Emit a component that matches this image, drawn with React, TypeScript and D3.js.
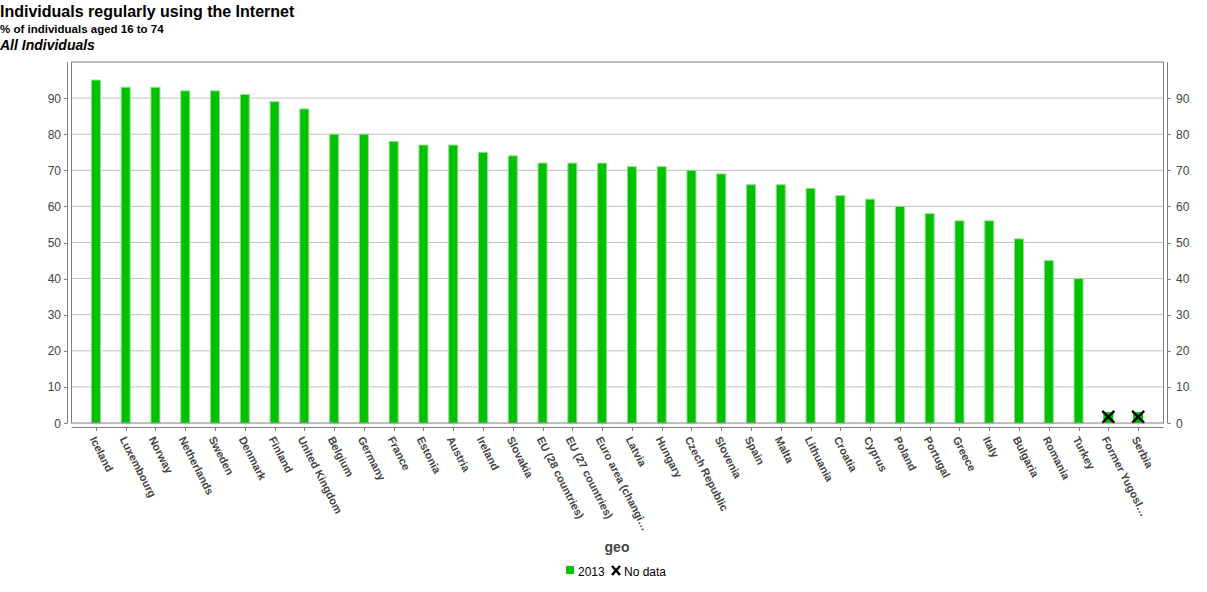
import React from "react";
import * as d3 from "d3";

const categories: string[] = [
  "Iceland", "Luxembourg", "Norway", "Netherlands", "Sweden", "Denmark", "Finland",
  "United Kingdom", "Belgium", "Germany", "France", "Estonia", "Austria", "Ireland",
  "Slovakia", "EU (28 countries)", "EU (27 countries)", "Euro area (changi…", "Latvia",
  "Hungary", "Czech Republic", "Slovenia", "Spain", "Malta", "Lithuania", "Croatia",
  "Cyprus", "Poland", "Portugal", "Greece", "Italy", "Bulgaria", "Romania", "Turkey",
  "Former Yugosl…", "Serbia",
];

const values2013: (number | null)[] = [
  95, 93, 93, 92, 92, 91, 89, 87, 80, 80, 78, 77, 77, 75, 74, 72, 72, 72, 71, 71, 70,
  69, 66, 66, 65, 63, 62, 60, 58, 56, 56, 51, 45, 40, null, null,
];

const yTicks: number[] = [0, 10, 20, 30, 40, 50, 60, 70, 80, 90];

const W = 1207;
const H = 592;
const FONT = "'Liberation Sans', Arial, sans-serif";

export default function App() {
  const plotL = 71.5, plotR = 1163.5, plotT = 62, plotB = 423;
  const x = d3.scaleBand<string>().domain(categories).range([81, 1153]).padding(0);
  const y = d3.scaleLinear().domain([0, 100]).range([plotB, plotT]);
  const barW = 10;
  const green = "#00c000";
  const axisColor = "#7f7f7f";
  const textColor = "#444";

  return (
    <svg width={W} height={H} style={{ position: "absolute", left: 0, top: 0, fontFamily: FONT }}>
      <rect width={W} height={H} fill="#fff" />
      {/* titles */}
      <text x={0} y={17} fontSize={16} fontWeight="bold" fill="#000">Individuals regularly using the Internet</text>
      <text x={0} y={33} fontSize={11.5} fontWeight="bold" fill="#000">% of individuals aged 16 to 74</text>
      <text x={0} y={50} fontSize={14} fontWeight="bold" fontStyle="italic" fill="#000">All Individuals</text>

      {/* gridlines */}
      {yTicks.filter((t) => t > 0).map((t) => (
        <line key={"g" + t} x1={plotL} x2={plotR} y1={y(t)} y2={y(t)} stroke="#c0c0c0" strokeWidth={1} />
      ))}

      {/* bars */}
      {categories.map((c, i) => {
        const v = values2013[i];
        const cx = (x(c) as number) + x.bandwidth() / 2;
        if (v == null) {
          const top = y(3);
          return (
            <g key={c}>
              <rect x={cx - barW / 2} y={top} width={barW} height={plotB - top} fill={green} />
              <line x1={cx - 6} y1={y(1.7) - 6} x2={cx + 6} y2={y(1.7) + 6} stroke="#000" strokeWidth={2.5} />
              <line x1={cx - 6} y1={y(1.7) + 6} x2={cx + 6} y2={y(1.7) - 6} stroke="#000" strokeWidth={2.5} />
            </g>
          );
        }
        return (
          <rect key={c} x={cx - barW / 2 + 0.5} y={y(v)} width={barW - 1} height={plotB - y(v)}
            fill={green} stroke="#8ee08e" strokeWidth={1} />
        );
      })}

      {/* plot box */}
      <rect x={plotL} y={plotT} width={plotR - plotL} height={plotB - plotT} fill="none" stroke={axisColor} strokeWidth={1} />

      {/* left axis */}
      <line x1={67.5} x2={67.5} y1={plotT} y2={plotB} stroke={axisColor} />
      {yTicks.map((t) => (
        <g key={"l" + t}>
          <line x1={64} x2={67.5} y1={Math.round(y(t)) + 0.5} y2={Math.round(y(t)) + 0.5} stroke={axisColor} />
          <text x={61} y={y(t) + 4.5} textAnchor="end" fontSize={12} fill={textColor}>{t}</text>
        </g>
      ))}

      {/* right axis */}
      <line x1={1167.5} x2={1167.5} y1={plotT} y2={plotB} stroke={axisColor} />
      {yTicks.map((t) => (
        <g key={"r" + t}>
          <line x1={1167.5} x2={1171} y1={Math.round(y(t)) + 0.5} y2={Math.round(y(t)) + 0.5} stroke={axisColor} />
          <text x={1176} y={y(t) + 4.5} textAnchor="start" fontSize={12} fill={textColor}>{t}</text>
        </g>
      ))}

      {/* x axis */}
      <line x1={plotL} x2={plotR} y1={427.5} y2={427.5} stroke={axisColor} />
      {categories.map((c) => {
        const cx = Math.round((x(c) as number) + x.bandwidth() / 2) + 0.5;
        return (
          <g key={"x" + c}>
            <line x1={cx} x2={cx} y1={427.5} y2={431} stroke={axisColor} />
            <text transform={`translate(${cx - 7},${439}) rotate(63)`} fontSize={11} fontWeight="bold" fill={textColor}>{c}</text>
          </g>
        );
      })}

      {/* axis title */}
      <text x={617} y={552} textAnchor="middle" fontSize={14} fontWeight="bold" fill={textColor}>geo</text>

      {/* legend */}
      <rect x={566} y={566} width={8} height={8} fill={green} />
      <text x={578} y={575.5} fontSize={12} fill="#000">2013</text>
      <line x1={612} y1={566} x2={620} y2={575} stroke="#000" strokeWidth={2.5} />
      <line x1={612} y1={575} x2={620} y2={566} stroke="#000" strokeWidth={2.5} />
      <text x={624} y={575.5} fontSize={12} fill="#000">No data</text>
    </svg>
  );
}
